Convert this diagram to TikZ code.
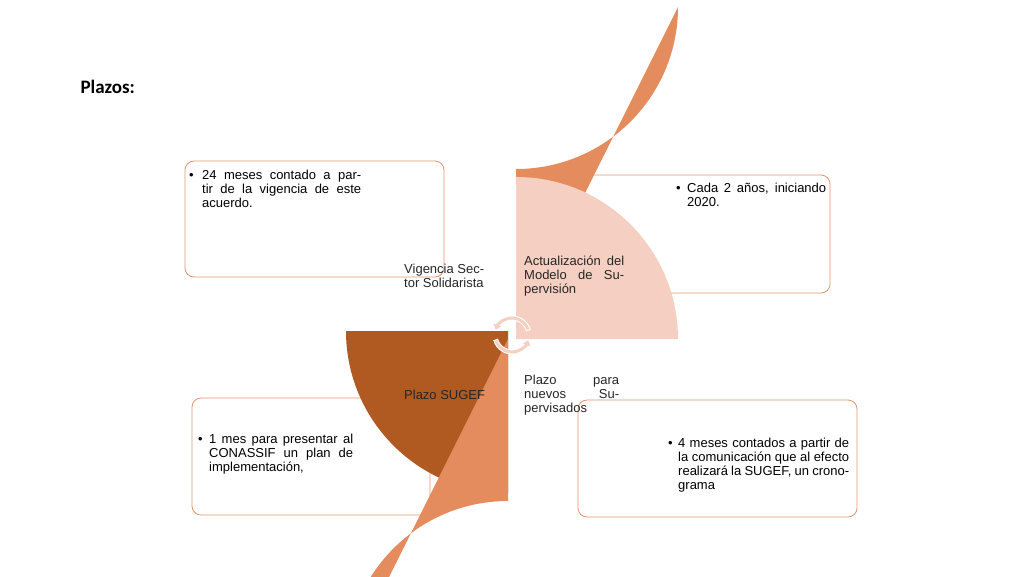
\documentclass[tikz,border=0pt]{standalone}
\usepackage{fontspec}
\setmainfont{Liberation Sans}
\newfontfamily\titlefont{Carlito}
\usetikzlibrary{arrows.meta}
\definecolor{dark}{HTML}{B05A22}
\definecolor{mid}{HTML}{E58C5F}
\definecolor{light}{HTML}{F5D0C2}
\definecolor{edge}{HTML}{E3956C}
\newcommand\bul[3]{\parbox[t]{#1}{\hangindent=#2\hangafter=1\noindent\makebox[#2][l]{•}#3}}
\tikzset{
 box/.style={draw=edge,line width=0.8pt,rounded corners=9pt,fill=white},
 txt/.style={font=\fontsize{13}{14}\selectfont,inner sep=0pt,anchor=north west},
 qtxt/.style={text width=#1,align=justify,font=\fontsize{13}{14}\selectfont,inner sep=0pt,anchor=west,text=black!85}
}
\begin{document}
\begin{tikzpicture}[x=1pt,y=-1pt]
\useasboundingbox (0,0) rectangle (1024,576);
\node[anchor=west,font=\titlefont\bfseries\fontsize{19}{22}\selectfont] (title) at (77,87) {Plazos:};
% boxes
\draw[box] (185,161) rectangle (444,277);
\draw[box] (572,175) rectangle (830,293);
\draw[box] (192,398) rectangle (430,515);
\draw[box] (578,400) rectangle (857,517);
% quadrants
\def\R{162}
\fill[dark] (508,331) -- (508-\R,331) arc[start angle=180,end angle=90,radius=\R] -- cycle;
\fill[mid] (516,331) -- (516,331-\R) arc[start angle=90,end angle=0,radius=\R] -- cycle;
\fill[mid] (508,339) -- (508,339+\R) arc[start angle=270,end angle=180,radius=\R] -- cycle;
\fill[light] (516,339) -- (516+\R,339) arc[start angle=0,end angle=-90,radius=\R] -- cycle;
% cycle arrows
\coordinate (c) at (512,335);
\draw[draw=white,line width=5pt,-{Triangle[length=8pt,width=12pt]}] ([shift={(165:17)}]c) arc[start angle=165,end angle=15,radius=17] coordinate (a1);
\draw[draw=light,line width=3pt,-{Triangle[length=5pt,width=8pt]}] ([shift={(162:17)}]c) arc[start angle=162,end angle=18,radius=17] coordinate (a1b);
\draw[draw=white,line width=5pt,-{Triangle[length=8pt,width=12pt]}] ([shift={(-15:17)}]c) arc[start angle=-15,end angle=-165,radius=17] coordinate (a2);
\draw[draw=light,line width=3pt,-{Triangle[length=5pt,width=8pt]}] ([shift={(-18:17)}]c) arc[start angle=-18,end angle=-162,radius=17] coordinate (a2b);
% quadrant texts
\node[qtxt=80pt] (q1) at (404,276) {Vigencia Sector Solidarista};
\node[qtxt=100pt] (q2) at (524,276) {Actualización del Modelo de Supervisión};
\node[qtxt=100pt] (q3) at (404,395) {Plazo SUGEF};
\node[qtxt=95pt] (q4) at (524,395) {Plazo para nuevos Supervisados};
% box texts
\node[txt] (t1) at (189,170) {\bul{172pt}{13pt}{24 meses contado a partir de la vigencia de este acuerdo.}};
\node[txt] (t2) at (676,183) {\bul{150pt}{11pt}{Cada 2 años, iniciando 2020.}};
\node[txt] (t3) at (198,434) {\bul{155pt}{11pt}{1 mes para presentar al CONASSIF un plan de implementación,}};
\node[txt] (t4) at (668,438) {\bul{181pt}{10pt}{4 meses contados a partir de la comunicación que al efecto realizará la SUGEF, un cronograma}};
\end{tikzpicture}
\end{document}
